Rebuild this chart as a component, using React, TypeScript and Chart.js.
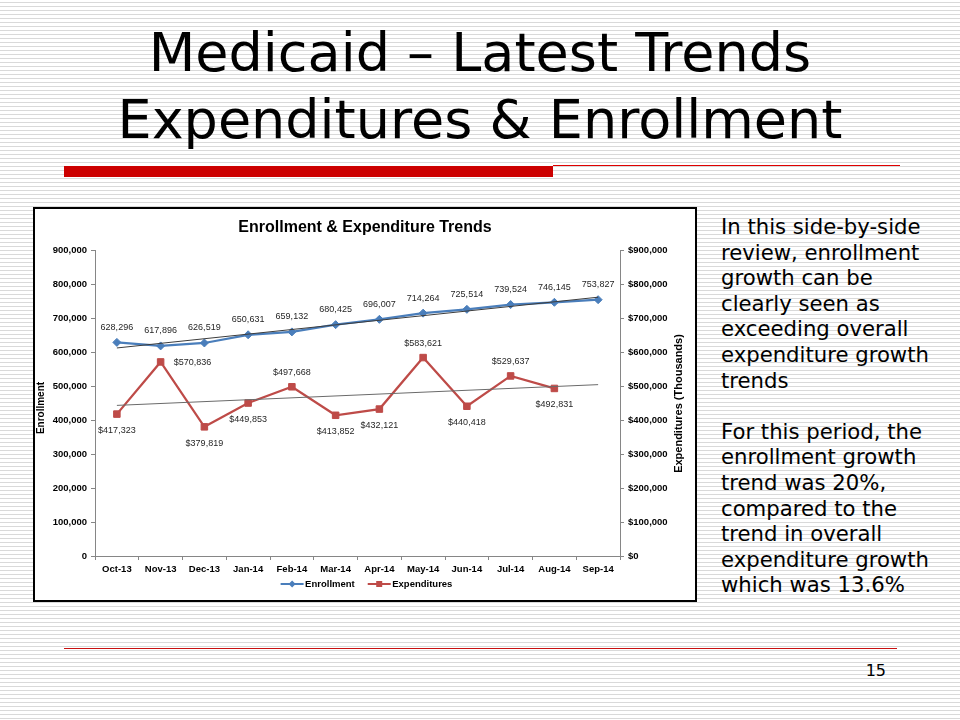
import React, { useEffect, useRef } from 'react';
import { Chart, registerables } from 'chart.js';

Chart.register(...registerables);

// ---- data ----
const months = ['Oct-13', 'Nov-13', 'Dec-13', 'Jan-14', 'Feb-14', 'Mar-14', 'Apr-14', 'May-14', 'Jun-14', 'Jul-14', 'Aug-14', 'Sep-14'];
const enrollment = [628296, 617896, 626519, 650631, 659132, 680425, 696007, 714264, 725514, 739524, 746145, 753827];
const expenditures: (number | null)[] = [417323, 570836, 379819, 449853, 497668, 413852, 432121, 583621, 440418, 529637, 492831, null];
// linear trendline end values (first and last month)
const enrollmentTrendEnds = [611900, 761200];
const expenditureTrendEnds = [443000, 504000];
const axisMin = 0;
const axisMax = 900000;
const axisStep = 100000;
// where each expenditure value label sits relative to its point
const expenditureLabelPlacement = ['below', 'right', 'below', 'below', 'above', 'below', 'below', 'above', 'below', 'above', 'below', 'below'];

const bodyLines = [
  'In this side-by-side',
  'review, enrollment',
  'growth can be',
  'clearly seen as',
  'exceeding overall',
  'expenditure growth',
  'trends',
  '',
  'For this period, the',
  'enrollment growth',
  'trend was 20%,',
  'compared to the',
  'trend in overall',
  'expenditure growth',
  'which was 13.6%',
];

const FONT = '"Liberation Sans", Arial, Helvetica, sans-serif';
const BLUE = '#4A7EBB';
const RED = '#BE4B48';
const TREND = '#3C3C3C';
const AXIS = '#868686';

const fmt = (v: number) => Math.round(v).toLocaleString('en-US');
const trendSeries = (ends: number[]) =>
  months.map((_, i) => (i === 0 ? ends[0] : i === months.length - 1 ? ends[1] : null));

const annotatePlugin = {
  id: 'annotate',
  afterDatasetsDraw(chart: any) {
    const ctx: CanvasRenderingContext2D = chart.ctx;
    ctx.save();
    ctx.font = `9px ${FONT}`;
    ctx.fillStyle = '#262626';
    ctx.textBaseline = 'middle';
    const m0 = chart.getDatasetMeta(0);
    m0.data.forEach((pt: any, i: number) => {
      ctx.textAlign = 'center';
      ctx.fillText(fmt(enrollment[i]), pt.x, pt.y - 15);
    });
    const m1 = chart.getDatasetMeta(1);
    m1.data.forEach((pt: any, i: number) => {
      const v = expenditures[i];
      if (v == null) return;
      const text = '$' + fmt(v);
      const pos = expenditureLabelPlacement[i];
      if (pos === 'right') {
        ctx.textAlign = 'left';
        ctx.fillText(text, pt.x + 13, pt.y + 1);
      } else if (pos === 'above') {
        ctx.textAlign = 'center';
        ctx.fillText(text, pt.x, pt.y - 14.5);
      } else {
        ctx.textAlign = 'center';
        ctx.fillText(text, pt.x, pt.y + 16.5);
      }
    });
    ctx.restore();
  },
  afterDraw(chart: any) {
    const ctx: CanvasRenderingContext2D = chart.ctx;
    const area = chart.chartArea;
    const midY = (area.top + area.bottom) / 2;
    ctx.save();
    ctx.fillStyle = '#000';
    ctx.textAlign = 'center';
    ctx.textBaseline = 'middle';
    // left axis title
    ctx.save();
    ctx.font = `bold 10px ${FONT}`;
    ctx.translate(6, midY + 5);
    ctx.rotate(-Math.PI / 2);
    ctx.fillText('Enrollment', 0, 0);
    ctx.restore();
    // right axis title (reads bottom to top)
    ctx.save();
    ctx.font = `bold 11px ${FONT}`;
    ctx.translate(644, midY + 0.5);
    ctx.rotate(-Math.PI / 2);
    ctx.fillText('Expenditures (Thousands)', 0, 0);
    ctx.restore();

    // legend
    const items = [
      { label: 'Enrollment', color: BLUE, marker: 'diamond' },
      { label: 'Expenditures', color: RED, marker: 'square' },
    ];
    ctx.font = `bold 9.5px ${FONT}`;
    const lineW = 23;
    const gap = 1.5;
    const spacing = 13;
    const widths = items.map((it) => ctx.measureText(it.label).width);
    const total = items.length * (lineW + gap) + widths.reduce((a, b) => a + b, 0) + spacing * (items.length - 1);
    let x = chart.width / 2 + 1.5 - total / 2;
    const y = 375;
    items.forEach((it, i) => {
      ctx.strokeStyle = it.color;
      ctx.lineWidth = 2;
      ctx.beginPath();
      ctx.moveTo(x, y);
      ctx.lineTo(x + lineW, y);
      ctx.stroke();
      ctx.fillStyle = it.color;
      const cx = x + lineW / 2;
      ctx.beginPath();
      if (it.marker === 'diamond') {
        ctx.moveTo(cx, y - 3.5);
        ctx.lineTo(cx + 3.5, y);
        ctx.lineTo(cx, y + 3.5);
        ctx.lineTo(cx - 3.5, y);
        ctx.closePath();
      } else {
        ctx.rect(cx - 3, y - 3, 6, 6);
      }
      ctx.fill();
      ctx.fillStyle = '#000';
      ctx.textAlign = 'left';
      ctx.fillText(it.label, x + lineW + gap, y);
      x += lineW + gap + widths[i] + spacing;
    });
    ctx.restore();
  },
};

function ChartBox() {
  const ref = useRef<HTMLCanvasElement | null>(null);
  useEffect(() => {
    if (!ref.current) return;
    const tickFont = { family: FONT, size: 9.5, weight: 'bold' as const };
    const axisCommon = {
      min: axisMin,
      max: axisMax,
      grid: { drawOnChartArea: false, drawTicks: true, tickLength: 4, color: AXIS, lineWidth: 1 },
      border: { display: true, color: AXIS, width: 1 },
    };
    const chart = new Chart(ref.current, {
      type: 'line',
      data: {
        labels: months,
        datasets: [
          {
            label: 'Enrollment',
            data: enrollment,
            yAxisID: 'y',
            borderColor: BLUE,
            backgroundColor: BLUE,
            borderWidth: 2.25,
            pointStyle: 'rectRot',
            pointRadius: 4,
            pointBackgroundColor: BLUE,
            pointBorderColor: BLUE,
            pointBorderWidth: 1,
            tension: 0,
            order: 1,
          },
          {
            label: 'Expenditures',
            data: expenditures,
            yAxisID: 'y2',
            borderColor: RED,
            backgroundColor: RED,
            borderWidth: 2.25,
            pointStyle: 'rect',
            pointRadius: 4.6,
            pointBackgroundColor: RED,
            pointBorderColor: RED,
            pointBorderWidth: 1,
            tension: 0,
            order: 1,
          },
          {
            label: 'Enrollment trend',
            data: trendSeries(enrollmentTrendEnds),
            yAxisID: 'y',
            borderColor: TREND,
            borderWidth: 1,
            pointRadius: 0,
            spanGaps: true,
            order: 0,
          },
          {
            label: 'Expenditure trend',
            data: trendSeries(expenditureTrendEnds),
            yAxisID: 'y2',
            borderColor: '#6A6A6A',
            borderWidth: 1,
            pointRadius: 0,
            spanGaps: true,
            order: 0,
          },
        ],
      },
      options: {
        animation: false,
        responsive: false,
        maintainAspectRatio: false,
        devicePixelRatio: 1,
        layout: { padding: 0 },
        plugins: {
          legend: { display: false },
          tooltip: { enabled: false },
          title: {
            display: true,
            text: 'Enrollment & Expenditure Trends',
            color: '#000',
            font: { family: FONT, size: 16, weight: 'bold' },
            padding: { top: 9, bottom: 12.8 },
          },
        },
        scales: {
          x: {
            type: 'category',
            offset: true,
            grid: { drawOnChartArea: false, drawTicks: true, tickLength: 4, color: AXIS, lineWidth: 1, offset: true },
            border: { display: true, color: AXIS, width: 1 },
            ticks: { font: tickFont, color: '#000', padding: 4, maxRotation: 0, minRotation: 0, autoSkip: false },
            afterFit: (s: any) => {
              s.height = 44;
            },
          },
          y: {
            ...axisCommon,
            position: 'left',
            ticks: { font: tickFont, color: '#000', padding: 4, stepSize: axisStep, callback: (v: any) => fmt(Number(v)) },
            afterFit: (s: any) => {
              s.width = 60;
            },
          },
          y2: {
            ...axisCommon,
            position: 'right',
            ticks: { font: tickFont, color: '#000', padding: 4, stepSize: axisStep, callback: (v: any) => '$' + fmt(Number(v)) },
            afterFit: (s: any) => {
              s.width = 75;
            },
          },
        },
      } as any,
      plugins: [annotatePlugin],
    });
    return () => chart.destroy();
  }, []);
  return <canvas ref={ref} width={660} height={391} style={{ display: 'block', width: 660, height: 391 }} />;
}

export default function App() {
  const stripes =
    'repeating-linear-gradient(to bottom, #ffffff 0px, #ffffff 2px, #d9d9d9 2px, #d9d9d9 3px, #ffffff 3px, #ffffff 4px)';
  return (
    <div
      style={{
        position: 'absolute',
        left: 0,
        top: 0,
        width: 960,
        height: 720,
        overflow: 'hidden',
        background: stripes,
        fontFamily: '"DejaVu Sans", Verdana, sans-serif',
        color: '#000',
      }}
    >
      <div style={{ position: 'absolute', left: 0, top: 26, width: 960, textAlign: 'center', fontSize: 54, lineHeight: '54px', whiteSpace: 'nowrap' }}>
        Medicaid – Latest Trends
      </div>
      <div style={{ position: 'absolute', left: 0, top: 92.6, width: 960, textAlign: 'center', fontSize: 54, lineHeight: '54px', whiteSpace: 'nowrap' }}>
        Expenditures &amp; Enrollment
      </div>
      <div style={{ position: 'absolute', left: 64, top: 166, width: 489, height: 11, background: '#CC0000' }} />
      <div style={{ position: 'absolute', left: 553, top: 165, width: 347, height: 1, background: '#E00000' }} />

      <div
        style={{
          position: 'absolute',
          left: 33,
          top: 207,
          width: 664,
          height: 395,
          border: '2px solid #000',
          boxSizing: 'border-box',
          background: '#fff',
        }}
      >
        <ChartBox />
      </div>

      <div style={{ position: 'absolute', left: 721, top: 214, fontSize: 21.2, lineHeight: '25.6px', whiteSpace: 'pre' }}>
        {bodyLines.map((l, i) => (
          <div key={i} style={{ height: 25.6 }}>
            {l}
          </div>
        ))}
      </div>

      <div style={{ position: 'absolute', left: 64, top: 648, width: 833, height: 1, background: '#C81010' }} />
      <div style={{ position: 'absolute', left: 836, top: 662.5, width: 50, textAlign: 'right', fontSize: 16, lineHeight: '16px' }}>15</div>
    </div>
  );
}
